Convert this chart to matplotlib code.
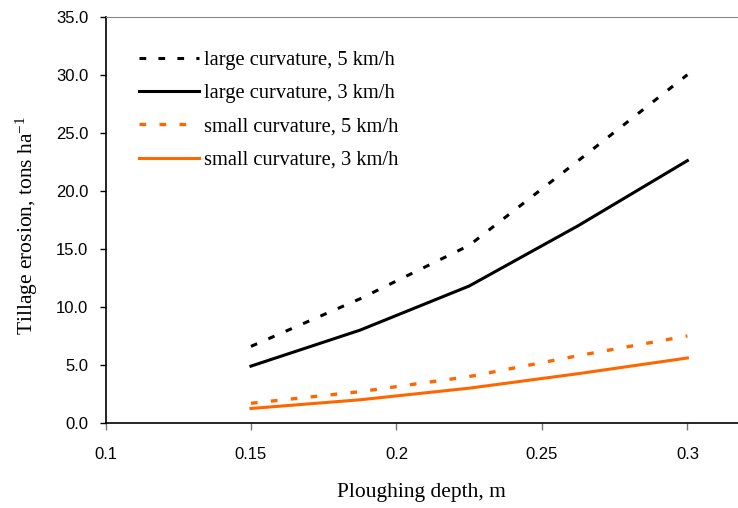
import matplotlib
matplotlib.use("Agg")
import matplotlib.pyplot as plt

plt.rcParams["mathtext.fontset"] = "custom"
plt.rcParams["mathtext.rm"] = "Liberation Serif"
plt.rcParams["mathtext.it"] = "Liberation Serif:italic"

depth = [0.15, 0.1875, 0.225, 0.2625, 0.3]
large_5 = [6.6, 10.7, 15.3, 22.6, 30.0]
large_3 = [4.9, 8.0, 11.8, 17.0, 22.6]
small_5 = [1.7, 2.7, 4.0, 5.8, 7.5]
small_3 = [1.25, 2.0, 3.0, 4.25, 5.6]
labels = ["large curvature, 5 km/h", "large curvature, 3 km/h",
          "small curvature, 5 km/h", "small curvature, 3 km/h"]
xticks = [0.1, 0.15, 0.2, 0.25, 0.3]
yticks = [0, 5, 10, 15, 20, 25, 30, 35]

orange = "#FF6600"
fig = plt.figure(figsize=(7.38, 5.08), dpi=100)
ax = fig.add_axes([105.5/738, 1-423/508, 1-105.5/738, (423-16.7)/508])

ax.plot(depth, large_5, color="black", lw=2.2, dashes=(2.2, 4), label=labels[0])
ax.plot(depth, large_3, color="black", lw=2.2, label=labels[1])
ax.plot(depth, small_5, color=orange, lw=2.4, dashes=(2, 4), label=labels[2])
ax.plot(depth, small_3, color=orange, lw=2.2, label=labels[3])

ax.set_xlim(0.1, 0.3174)
ax.set_ylim(0, 35)
ax.set_xticks(xticks)
ax.set_xticklabels(["0.1", "0.15", "0.2", "0.25", "0.3"], family="Liberation Sans", fontsize=12)
ax.set_yticks(yticks)
ax.set_yticklabels([f"{v:.1f}" for v in yticks], family="Liberation Sans", fontsize=12)
ax.tick_params(axis="x", direction="out", length=5, width=1, pad=12, color="#777777")
ax.tick_params(axis="y", direction="out", length=4.5, width=1, pad=8)
ax.spines["right"].set_visible(False)
ax.spines["top"].set_color("#888888")
for s in ("left", "bottom"):
    ax.spines[s].set_linewidth(1.2)

fig.text(421.5/738, 1-492/508, "Ploughing depth, m", family="Liberation Serif",
         fontsize=15.5, ha="center", va="center")
fig.text(27/738, 1-225/508, "Tillage erosion, tons ha$^{\\mathregular{-1}}$", family="Liberation Serif",
         fontsize=15.5, ha="center", va="center", rotation=90)

leg = ax.legend(loc="upper left", bbox_to_anchor=(120/738, 1-32/508), bbox_transform=fig.transFigure,
                frameon=False, prop={"family": "Liberation Serif", "size": 14.8},
                handlelength=2.95, handletextpad=0.25, labelspacing=0.68)

fig.savefig("out.png", dpi=100)
